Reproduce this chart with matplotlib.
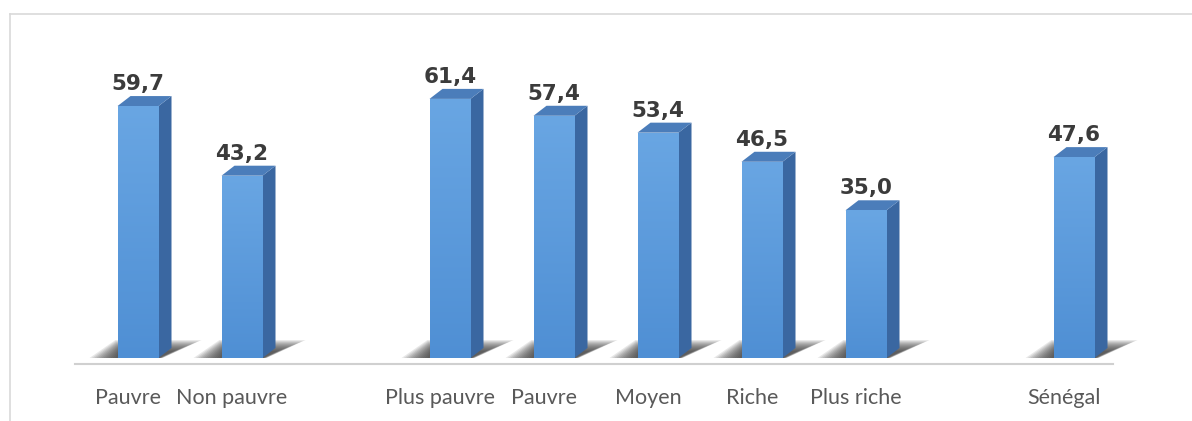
import numpy as np
import matplotlib.pyplot as plt
from matplotlib.patches import Polygon, Rectangle
from matplotlib.lines import Line2D
from matplotlib.colors import LinearSegmentedColormap

# Valeurs du graphique
categories = ["Pauvre", "Non pauvre", "Plus pauvre", "Pauvre", "Moyen",
              "Riche", "Plus riche", "Sénégal"]
valeurs = [59.7, 43.2, 61.4, 57.4, 53.4, 46.5, 35.0, 47.6]
positions = [0, 1, 3, 4, 5, 6, 7, 9]

W, H = 1192, 421
px_x = 104.0   # pixels par unité en x
px_y = 4.22    # pixels par unité en y
x0_px = 138.0  # centre de la première barre
base_px = 358.0

fig = plt.figure(figsize=(W / 100, H / 100), dpi=100)
ax = fig.add_axes([0, 0, 1, 1])
ax.set_xlim(-x0_px / px_x, (W - x0_px) / px_x)
ax.set_ylim(-(H - base_px) / px_y, base_px / px_y)
ax.axis("off")

largeur = 41 / px_x
dx = 13 / px_x
dy = 10 / px_y

cote = "#3a67a1"
dessus = "#4b7dba"
cmap_face = LinearSegmentedColormap.from_list("f", ["#4f8fd4", "#69a6e3"])

# dégradé vertical pour la face avant
grad = np.linspace(0, 1, 256).reshape(-1, 1)

for x, v in zip(positions, valeurs):
    g = x - largeur / 2
    d = x + largeur / 2
    # ombre portée au pied de la barre, floutée par couches
    n = 12
    for k in range(n):
        s = 1 - k / n
        haut = (6 + 12 * s) / px_y
        pts = [(g - 28 / px_x * s, 0),
               (d + 4 / px_x * s, 0),
               (d + dx + 30 / px_x * s, haut),
               (g + 2 / px_x - 4 / px_x * s, haut)]
        ax.add_patch(Polygon(pts, closed=True, facecolor="#2e2e2e",
                             edgecolor="none", alpha=0.11, zorder=1))
    # face avant
    rect = Rectangle((g, 0), largeur, v, facecolor="#5b9bdc",
                     edgecolor="none", zorder=3)
    ax.add_patch(rect)
    im = ax.imshow(grad, extent=(g, d, 0, v), aspect="auto", origin="lower",
                   cmap=cmap_face, zorder=3.5)
    im.set_clip_path(rect)
    # côté
    ax.add_patch(Polygon([(d, 0), (d + dx, dy), (d + dx, v + dy), (d, v)],
                         closed=True, facecolor=cote, edgecolor="none",
                         zorder=3))
    # dessus
    ax.add_patch(Polygon([(g, v), (d, v), (d + dx, v + dy), (g + dx, v + dy)],
                         closed=True, facecolor=dessus, edgecolor="none",
                         zorder=3))
    ax.text(x, v + 16 / px_y, f"{v:.1f}".replace(".", ","),
            ha="center", va="baseline", fontsize=15.5, fontweight="bold",
            color="#3b3b3b", family="DejaVu Sans", zorder=5)

# axe horizontal
ax.plot([-63 / px_x, (1113 - x0_px) / px_x], [-6 / px_y, -6 / px_y],
        color="#d0d0d0", lw=1.5, zorder=2)

for x, c in zip(positions, categories):
    ax.text(x - 10 / px_x, -40 / px_y, c, ha="center", va="center",
            fontsize=15.5, color="#595959", family="Lato")

# cadre
fig.add_artist(Line2D([10 / W, 10 / W], [0, 1 - 14 / H], color="#d9d9d9",
                      lw=1.2, transform=fig.transFigure))
fig.add_artist(Line2D([10 / W, 1], [1 - 14 / H, 1 - 14 / H], color="#d9d9d9",
                      lw=1.2, transform=fig.transFigure))

fig.savefig("out.png", dpi=100)
